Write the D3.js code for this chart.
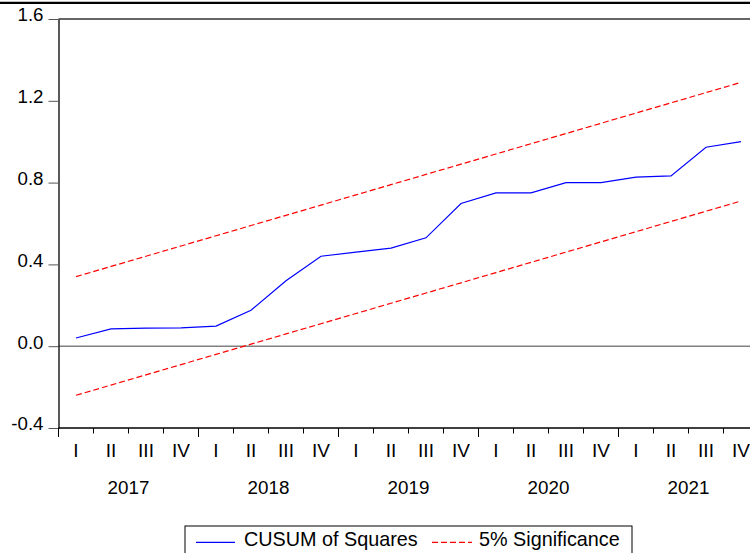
<!DOCTYPE html>
<html>
<head>
<meta charset="utf-8">
<script src="https://cdn.jsdelivr.net/npm/d3@7"></script>
<style>
  body { margin: 0; background: #fff; }
  svg { display: block; font-family: "Liberation Sans", Arial, sans-serif; }
</style>
</head>
<body>
<div id="chart"></div>
<script>
// quarters per year and the years on the axis
years = [2017, 2018, 2019, 2020, 2021]
quarterNames = ["I", "II", "III", "IV"]
yTicks = [-0.4, 0.0, 0.4, 0.8, 1.2, 1.6]

// CUSUM of squares, one value per quarter
cusum = [0.04, 0.085, 0.088, 0.09, 0.098, 0.176, 0.32, 0.44,
         0.46, 0.48, 0.53, 0.698, 0.75, 0.75, 0.80, 0.80,
         0.827, 0.833, 0.973, 1.0]
// 5% significance bounds
upper = [0.34, 0.39, 0.44, 0.49, 0.54, 0.59, 0.64, 0.69, 0.74, 0.79,
         0.84, 0.89, 0.94, 0.99, 1.04, 1.09, 1.14, 1.19, 1.24, 1.29]
lower = [-0.24, -0.19, -0.14, -0.09, -0.04, 0.01, 0.06, 0.11, 0.16, 0.21,
         0.26, 0.31, 0.36, 0.41, 0.46, 0.51, 0.56, 0.61, 0.66, 0.71]

const W = 750, H = 553;
const plotLeft = 58.5, plotTop = 19, plotBottom = 428, step = 35;

let periods = [];
years.forEach(y => quarterNames.forEach(q => periods.push(y + "-" + q)));

const svg = d3.select("#chart").append("svg")
    .attr("width", W)
    .attr("height", H);

const xScale = d3.scaleBand()
    .domain(periods)
    .range([plotLeft, plotLeft + step * periods.length])
    .paddingInner(0).paddingOuter(0);

const yScale = d3.scaleLinear()
    .domain([-0.4, 1.6])
    .range([plotBottom, plotTop]);

const xc = (d, i) => xScale(periods[i]) + xScale.bandwidth() / 2;

// frame line at very top
svg.append("line")
    .attr("x1", 0).attr("x2", W)
    .attr("y1", 2.8).attr("y2", 2.8)
    .attr("stroke", "#000").attr("stroke-width", 2.3);

// top border of plot
svg.append("line")
    .attr("x1", plotLeft).attr("x2", W)
    .attr("y1", plotTop).attr("y2", plotTop)
    .attr("stroke", "#333").attr("stroke-width", 1.5);

// zero line
svg.append("line")
    .attr("x1", plotLeft).attr("x2", W)
    .attr("y1", yScale(0)).attr("y2", yScale(0))
    .attr("stroke", "#808080").attr("stroke-width", 1.5);

// y axis
const yAxis = svg.append("g")
    .attr("transform", "translate(" + plotLeft + ",0)")
    .call(d3.axisLeft(yScale)
        .tickValues(yTicks)
        .tickFormat(d => d.toFixed(1))
        .tickSize(10)
        .tickSizeOuter(0)
        .tickPadding(5));
yAxis.select(".domain").attr("stroke", "#000").attr("stroke-width", 1.3);
yAxis.selectAll(".tick line").attr("stroke", "#555");
yAxis.selectAll(".tick text")
    .attr("font-size", 18.7)
    .attr("fill", "#000")
    .attr("dy", "0.1em")
    .attr("x", -15);

// x axis line
svg.append("line")
    .attr("x1", plotLeft).attr("x2", W)
    .attr("y1", plotBottom).attr("y2", plotBottom)
    .attr("stroke", "#000").attr("stroke-width", 1.3);

// x ticks at quarter boundaries, longer at year starts
const tickPos = periods.map(p => xScale(p)).concat([xScale.range()[1]]);
svg.selectAll(".xtick")
    .data(tickPos)
    .enter().append("line")
    .attr("class", "xtick")
    .attr("x1", d => d).attr("x2", d => d)
    .attr("y1", plotBottom)
    .attr("y2", (d, i) => plotBottom + (i % 4 === 0 ? 9 : 5.5))
    .attr("stroke", "#000").attr("stroke-width", 1);

// quarter labels
svg.selectAll(".qlab")
    .data(periods)
    .enter().append("text")
    .attr("class", "qlab")
    .attr("x", d => xScale(d) + xScale.bandwidth() / 2)
    .attr("y", 456.7)
    .attr("text-anchor", "middle")
    .attr("font-size", 19)
    .text(d => d.split("-")[1]);

// year labels
svg.selectAll(".ylab")
    .data(years)
    .enter().append("text")
    .attr("class", "ylab")
    .attr("x", d => xScale(d + "-I") + step * 2)
    .attr("y", 494)
    .attr("text-anchor", "middle")
    .attr("font-size", 18.8)
    .text(d => d);

const line = d3.line()
    .x(xc)
    .y(d => yScale(d));

svg.append("path")
    .datum(upper)
    .attr("fill", "none")
    .attr("stroke", "#ff0000")
    .attr("stroke-width", 1.2)
    .attr("stroke-dasharray", "6,3")
    .attr("d", line);

svg.append("path")
    .datum(lower)
    .attr("fill", "none")
    .attr("stroke", "#ff0000")
    .attr("stroke-width", 1.2)
    .attr("stroke-dasharray", "6,3")
    .attr("d", line);

svg.append("path")
    .datum(cusum)
    .attr("fill", "none")
    .attr("stroke", "#0000ff")
    .attr("stroke-width", 1.2)
    .attr("d", line);

// legend
const legend = svg.append("g");
legend.append("rect")
    .attr("x", 185).attr("y", 526)
    .attr("width", 447).attr("height", 40)
    .attr("fill", "#fff")
    .attr("stroke", "#000").attr("stroke-width", 1);
legend.append("line")
    .attr("x1", 196).attr("x2", 235)
    .attr("y1", 542.3).attr("y2", 542.3)
    .attr("stroke", "#0000ff").attr("stroke-width", 1.2);
legend.append("text")
    .attr("x", 244).attr("y", 546)
    .attr("font-size", 19.8)
    .text("CUSUM of Squares");
legend.append("line")
    .attr("x1", 432).attr("x2", 472)
    .attr("y1", 542.3).attr("y2", 542.3)
    .attr("stroke", "#ff0000").attr("stroke-width", 1.2)
    .attr("stroke-dasharray", "6,3");
legend.append("text")
    .attr("x", 479).attr("y", 546)
    .attr("font-size", 19.8)
    .text("5% Significance");
</script>
</body>
</html>
